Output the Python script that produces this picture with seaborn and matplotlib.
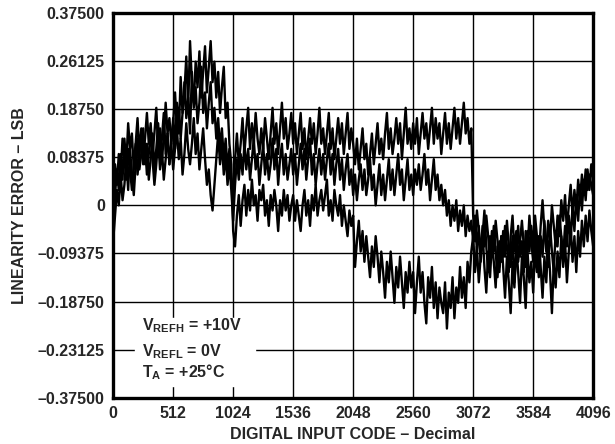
import matplotlib
matplotlib.use("Agg")
import matplotlib.pyplot as plt
import seaborn as sns
import pandas as pd
import numpy as np

# digital input codes, sampled every 16 codes
codes = list(range(0, 4097, 16))

# linearity error (LSB) of three devices (one row = 256 codes)
trace_a = [
    -0.07, -0.02, 0.03, 0.00, 0.06, 0.01, 0.04, 0.09, 0.03, 0.11, 0.06, 0.02, 0.08, 0.13, 0.07, 0.10,
    0.15, 0.08, 0.12, 0.05, 0.09, 0.14, 0.07, 0.11, 0.16, 0.09, 0.13, 0.18, 0.10, 0.14, 0.08, 0.12,
    0.17, 0.11, 0.20, 0.14, 0.25, 0.18, 0.22, 0.29, 0.19, 0.32, 0.24, 0.20, 0.28, 0.23, 0.30, 0.21,
    0.26, 0.31, 0.22, 0.27, 0.32, 0.24, 0.28, 0.21, 0.26, 0.18, 0.23, 0.27, 0.17, 0.20, 0.12, 0.08,
    -0.05, -0.08, -0.02, 0.02, -0.04, 0.01, 0.04, -0.02, 0.03, -0.01, 0.05, 0.00, 0.02, -0.03, 0.03, 0.01,
    0.04, -0.02, 0.01, -0.04, 0.02, -0.01, 0.03, 0.00, -0.05, 0.01, -0.02, 0.03, -0.01, 0.02, -0.03, 0.00,
    0.02, -0.03, 0.01, -0.02, -0.05, 0.00, 0.03, -0.02, 0.01, -0.04, 0.02, -0.01, 0.04, -0.02, 0.01, 0.03,
    -0.01, 0.02, 0.05, -0.02, 0.01, -0.03, 0.03, 0.00, -0.02, 0.02, -0.04, 0.00, -0.03, -0.06, -0.01, -0.04,
    -0.02, -0.12, -0.07, -0.03, -0.09, -0.05, -0.11, -0.06, -0.10, -0.14, -0.08, -0.12, -0.06, -0.10, -0.15, -0.09,
    -0.13, -0.18, -0.11, -0.15, -0.09, -0.14, -0.19, -0.12, -0.16, -0.10, -0.15, -0.20, -0.13, -0.17, -0.11, -0.16,
    -0.13, -0.21, -0.15, -0.10, -0.17, -0.13, -0.19, -0.23, -0.14, -0.18, -0.12, -0.20, -0.15, -0.22, -0.16, -0.19,
    -0.21, -0.15, -0.24, -0.17, -0.20, -0.14, -0.22, -0.16, -0.19, -0.12, -0.18, -0.14, -0.20, -0.11, -0.15, -0.09,
    -0.06, -0.13, -0.08, -0.15, -0.10, -0.05, -0.12, -0.17, -0.09, -0.14, -0.07, -0.11, -0.16, -0.08, -0.13, -0.06,
    -0.12, -0.18, -0.10, -0.15, -0.21, -0.11, -0.16, -0.08, -0.13, -0.19, -0.10, -0.14, -0.20, -0.09, -0.15, -0.11,
    -0.17, -0.08, -0.13, -0.06, -0.12, -0.18, -0.10, -0.15, -0.07, -0.13, -0.21, -0.11, -0.16, -0.09, -0.14, -0.06,
    -0.12, -0.07, -0.15, -0.09, -0.04, -0.11, -0.06, -0.13, -0.05, -0.10, -0.03, -0.08, -0.02, -0.07, -0.01, -0.05,
    -0.08,
]
trace_b = [
    -0.04, 0.02, 0.07, 0.03, 0.10, 0.05, 0.13, 0.08, 0.16, 0.11, 0.14, 0.07, 0.12, 0.17, 0.10, 0.15,
    0.09, 0.13, 0.18, 0.12, 0.16, 0.10, 0.14, 0.19, 0.11, 0.15, 0.09, 0.13, 0.20, 0.14, 0.17, 0.12,
    0.16, 0.22, 0.15, 0.19, 0.13, 0.18, 0.24, 0.17, 0.21, 0.14, 0.26, 0.19, 0.23, 0.16, 0.20, 0.27,
    0.18, 0.22, 0.15, 0.20, 0.24, 0.16, 0.19, 0.13, 0.17, 0.11, 0.15, 0.09, 0.13, 0.07, 0.11, 0.05,
    0.02, 0.09, 0.14, 0.08, 0.12, 0.17, 0.10, 0.15, 0.19, 0.11, 0.16, 0.12, 0.18, 0.13, 0.10, 0.15,
    0.11, 0.17, 0.13, 0.09, 0.14, 0.19, 0.12, 0.16, 0.10, 0.15, 0.20, 0.13, 0.17, 0.11, 0.14, 0.18,
    0.12, 0.16, 0.10, 0.14, 0.18, 0.11, 0.15, 0.09, 0.13, 0.17, 0.12, 0.16, 0.10, 0.14, 0.19, 0.12,
    0.15, 0.10, 0.14, 0.18, 0.11, 0.15, 0.09, 0.13, 0.17, 0.12, 0.16, 0.10, 0.14, 0.18, 0.11, 0.15,
    0.12, 0.08, 0.13, 0.07, 0.11, 0.15, 0.09, 0.12, 0.06, 0.10, 0.14, 0.08, 0.12, 0.16, 0.10, 0.13,
    0.09, 0.14, 0.18, 0.11, 0.15, 0.10, 0.13, 0.17, 0.12, 0.16, 0.09, 0.14, 0.19, 0.12, 0.15, 0.11,
    0.16, 0.12, 0.17, 0.10, 0.14, 0.18, 0.13, 0.16, 0.11, 0.15, 0.19, 0.12, 0.17, 0.13, 0.16, 0.10,
    0.14, 0.18, 0.12, 0.16, 0.11, 0.15, 0.19, 0.13, 0.17, 0.12, 0.16, 0.20, 0.14, 0.17, 0.12, 0.15,
    -0.02, -0.07, -0.01, -0.05, -0.10, -0.04, -0.08, -0.02, -0.06, -0.11, -0.05, -0.09, -0.03, -0.07, -0.12, -0.06,
    -0.10, -0.04, -0.08, -0.13, -0.06, -0.02, -0.09, -0.05, -0.11, -0.07, -0.03, -0.08, -0.12, -0.05, -0.09, -0.04,
    -0.08, -0.02, -0.06, -0.11, -0.04, 0.01, -0.05, -0.09, -0.03, -0.07, 0.00, -0.04, -0.08, -0.02, -0.06, 0.01,
    -0.03, 0.02, -0.05, 0.00, 0.04, -0.02, 0.03, -0.01, 0.05, 0.01, 0.06, 0.02, 0.07, 0.03, 0.06, 0.04,
    0.02,
]
trace_c = [
    0.03, 0.08, 0.04, 0.10, 0.06, 0.13, 0.09, 0.05, 0.11, 0.07, 0.03, 0.08, 0.12, 0.06, 0.10, 0.14,
    0.08, 0.12, 0.06, 0.10, 0.15, 0.09, 0.04, 0.08, 0.13, 0.07, 0.11, 0.05, 0.09, 0.14, 0.08, 0.12,
    0.07, 0.11, 0.15, 0.09, 0.13, 0.06, 0.10, 0.16, 0.11, 0.08, 0.12, 0.17, 0.10, 0.14, 0.07, 0.11,
    0.15, 0.09, 0.04, 0.07, 0.02, -0.01, 0.04, 0.09, 0.14, 0.08, 0.12, 0.06, 0.10, 0.04, 0.08, 0.03,
    -0.03, 0.04, 0.09, 0.05, 0.10, 0.06, 0.12, 0.07, 0.11, 0.05, 0.09, 0.13, 0.07, 0.10, 0.04, 0.08,
    0.12, 0.06, 0.10, 0.05, 0.08, 0.13, 0.07, 0.11, 0.04, 0.09, 0.12, 0.06, 0.10, 0.05, 0.08, 0.11,
    0.06, 0.10, 0.04, 0.08, 0.12, 0.07, 0.11, 0.05, 0.09, 0.13, 0.06, 0.10, 0.04, 0.08, 0.11, 0.06,
    0.10, 0.05, 0.09, 0.12, 0.06, 0.10, 0.04, 0.08, 0.11, 0.05, 0.09, 0.03, 0.07, 0.10, 0.04, 0.07,
    0.02, 0.06, 0.01, 0.05, 0.08, 0.03, 0.07, 0.02, 0.05, 0.09, 0.03, 0.06, 0.00, 0.04, 0.08, 0.02,
    0.06, 0.01, 0.05, 0.09, 0.03, 0.07, 0.02, 0.06, 0.10, 0.04, 0.07, 0.01, 0.05, 0.09, 0.03, 0.06,
    0.02, 0.07, 0.04, 0.08, 0.03, 0.06, 0.10, 0.04, 0.07, 0.01, 0.05, 0.09, 0.03, 0.06, 0.01, 0.04,
    0.00, 0.03, -0.02, 0.01, -0.04, 0.00, -0.03, 0.01, -0.05, -0.01, -0.04, 0.00, -0.06, -0.02, -0.05, -0.03,
    -0.07, -0.02, -0.09, -0.04, -0.11, -0.06, -0.01, -0.08, -0.13, -0.06, -0.10, -0.04, -0.09, -0.14, -0.07, -0.11,
    -0.05, -0.10, -0.03, -0.08, -0.12, -0.06, -0.15, -0.09, -0.04, -0.10, -0.07, -0.13, -0.05, -0.09, -0.02, -0.07,
    -0.11, -0.05, -0.09, -0.14, -0.06, -0.10, -0.03, -0.08, -0.12, -0.04, -0.09, -0.13, -0.05, -0.08, -0.02, -0.06,
    -0.10, -0.04, -0.08, -0.02, -0.07, 0.00, -0.05, 0.02, -0.03, 0.04, -0.01, 0.05, 0.01, 0.07, 0.03, 0.08,
    0.05,
]

x_ticks = [0, 512, 1024, 1536, 2048, 2560, 3072, 3584, 4096]
y_tick_labels = ["–0.37500", "–0.23125", "–0.18750", "–0.09375", "0",
                 "0.08375", "0.18750", "0.26125", "0.37500"]

df = pd.DataFrame({
    "code": codes * 3,
    "error": trace_a + trace_b + trace_c,
    "device": ["A"] * len(codes) + ["B"] * len(codes) + ["C"] * len(codes),
})

sns.set_theme(style="white")
plt.rcParams["font.family"] = ["Liberation Sans", "DejaVu Sans"]
plt.rcParams["font.weight"] = "bold"
plt.rcParams["mathtext.fontset"] = "custom"
plt.rcParams["mathtext.rm"] = "Liberation Sans:bold"
plt.rcParams["mathtext.bf"] = "Liberation Sans:bold"

fig = plt.figure(figsize=(6.15, 4.44), dpi=100)
ax = fig.add_axes([0.184, 0.104, 0.7805, 0.867])

sns.lineplot(data=df, x="code", y="error", hue="device", units="device",
             estimator=None, palette=["black"] * 3, linewidth=1.7,
             legend=False, ax=ax, zorder=3)

ax.set_xlim(0, 4096)
ax.set_ylim(-0.375, 0.375)
ax.set_xticks(x_ticks)
ax.set_xticklabels([str(v) for v in x_ticks])
y_pos = np.arange(-4, 5) * 0.09375
ax.set_yticks(y_pos)
ax.set_yticklabels(y_tick_labels)
ax.tick_params(length=0, labelsize=11.5, pad=6)
for lab in ax.get_xticklabels() + ax.get_yticklabels():
    lab.set_fontweight("bold")

ax.grid(True, color="black", linewidth=1.0, zorder=1)
for s in ax.spines.values():
    s.set_color("black")
    s.set_linewidth(2.4)

ax.set_xlabel("DIGITAL INPUT CODE – Decimal", fontsize=11.5, fontweight="bold", labelpad=4)
ax.set_ylabel("LINEARITY ERROR – LSB", fontsize=11.5, fontweight="bold", labelpad=8)

# condition box
ax.fill_between([190, 1210], -0.352, -0.219, color="white", zorder=2)
ax.text(250, -0.235, r"$\mathrm{V}_{\mathrm{REFH}}$ = +10V", fontsize=11.5, fontweight="bold",
        va="center", ha="left", zorder=4)
ax.text(250, -0.285, r"$\mathrm{V}_{\mathrm{REFL}}$ = 0V", fontsize=11.5, fontweight="bold",
        va="center", ha="left", zorder=4)
ax.text(250, -0.325, r"$\mathrm{T}_{\mathrm{A}}$ = +25°C", fontsize=11.5, fontweight="bold",
        va="center", ha="left", zorder=4)

fig.savefig("out.png", dpi=100, facecolor="white")
